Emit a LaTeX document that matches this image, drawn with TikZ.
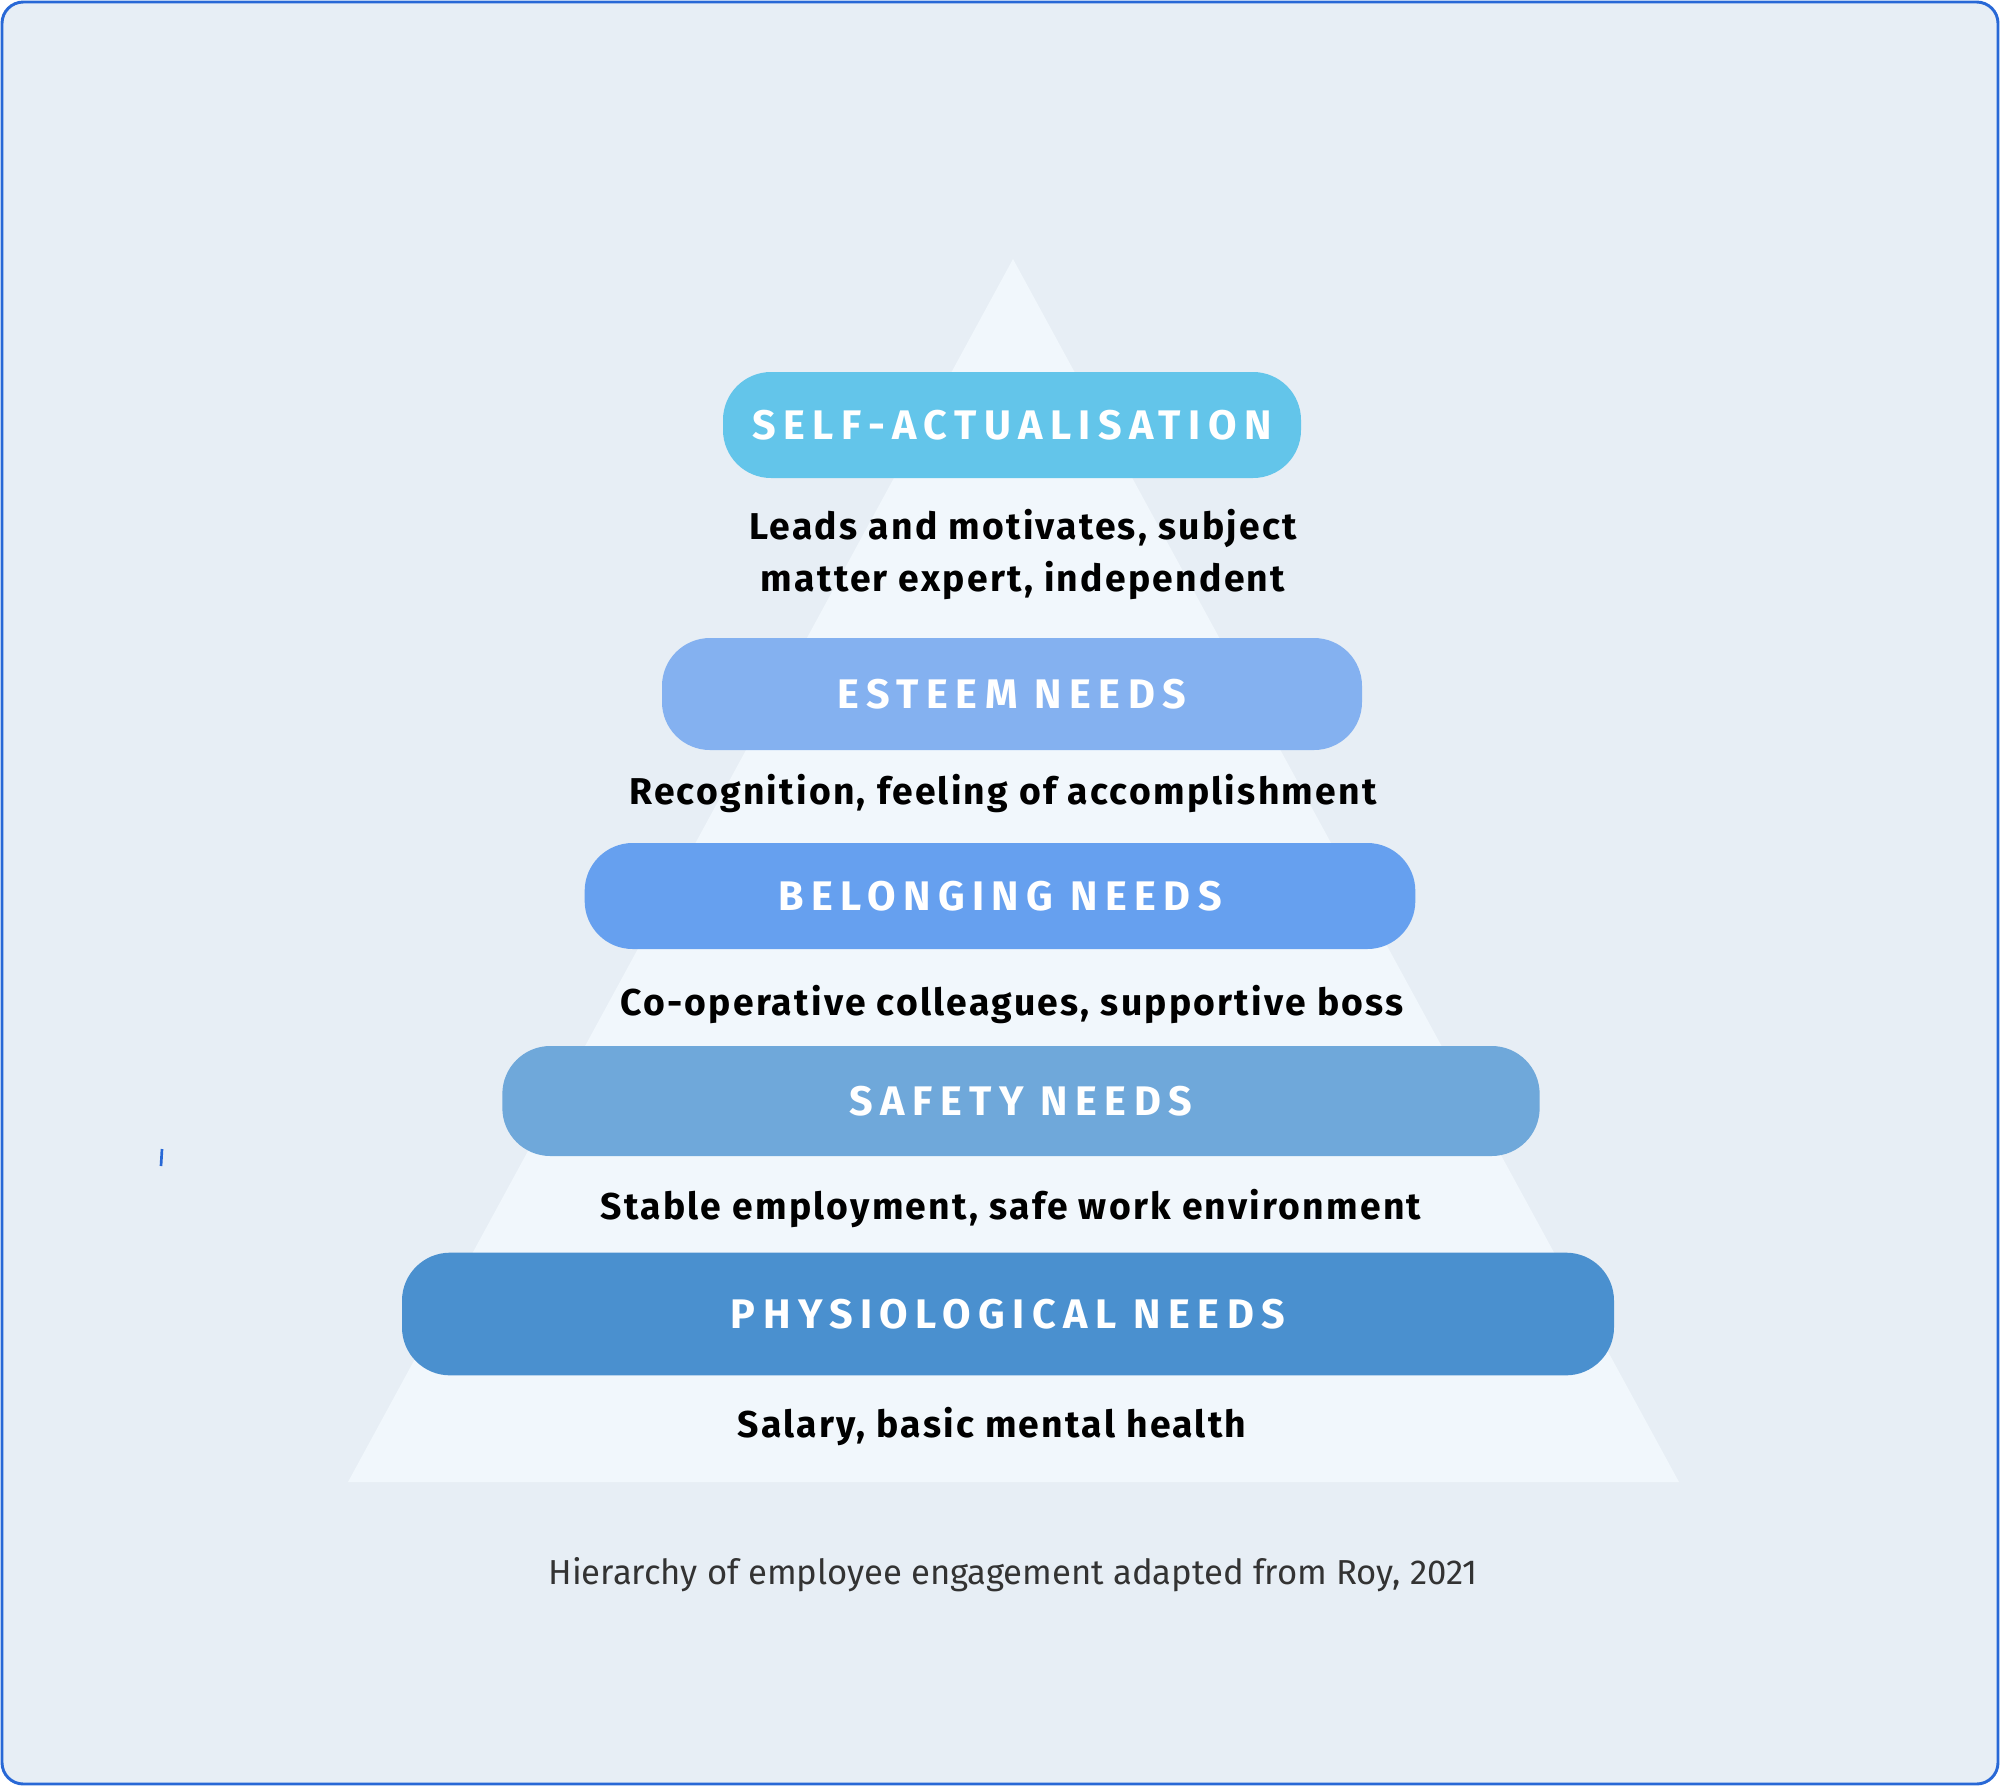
\documentclass[tikz,border=0pt]{standalone}
\usepackage{fontspec}
\setmainfont{Fira Sans}
\newfontfamily\pillfont[LetterSpace=18]{Fira Sans}
\newfontfamily\needfont[LetterSpace=6]{Fira Sans}
\usetikzlibrary{positioning}

\definecolor{bgcol}{RGB}{231,238,245}
\definecolor{framecol}{RGB}{40,104,214}
\definecolor{pyrcol}{RGB}{241,247,252}
\definecolor{selfcol}{RGB}{99,197,234}
\definecolor{esteemcol}{RGB}{132,177,240}
\definecolor{belongcol}{RGB}{102,160,239}
\definecolor{safecol}{RGB}{111,168,218}
\definecolor{physcol}{RGB}{74,144,207}

\tikzset{
  pill/.style={rounded corners=36pt, inner sep=0pt, text=white,
    font=\pillfont\bfseries\fontsize{31}{36}\selectfont},
  need/.style={inner sep=0.75pt, align=center, text=black,
    font=\needfont\bfseries\fontsize{28}{39}\selectfont},
}

\begin{document}
\begin{tikzpicture}[x=0.75pt,y=0.75pt,yscale=-1,xscale=1]
\useasboundingbox (0,0) rectangle (2000,1786);

%Shape: Frame
\draw [draw=framecol, fill=bgcol, line width=2.2, rounded corners=16pt] (2,2) rectangle (1998,1784) ;
%Shape: Pyramid
\fill [pyrcol] (1013,259) -- (1679,1482) -- (348,1482) -- cycle ;
%Stray tick
\draw [framecol, line width=2] (162,1149) -- (161,1166) ;

% Levels (sizes in pt = px*0.75)
\node [pill, fill=selfcol, minimum width=433.5pt, minimum height=79.5pt] (self) at (1012,425) {SELF-ACTUALISATION};
\node [pill, fill=esteemcol, minimum width=525pt, minimum height=84pt] (esteem) at (1012,694) {ESTEEM NEEDS};
\node [pill, fill=belongcol, minimum width=623pt, minimum height=79.5pt] (belong) at (1000,896) {BELONGING NEEDS};
\node [pill, fill=safecol, minimum width=778pt, minimum height=82.5pt] (safe) at (1021,1101) {SAFETY NEEDS};
\node [pill, fill=physcol, minimum width=909pt, minimum height=92pt] (phys) at (1008,1314) {PHYSIOLOGICAL NEEDS};

% Text Nodes
\node [need] (selftxt) at (1023,554) {Leads and motivates, subject\\matter expert, independent};
\node [need] (esteemtxt) at (1003,793) {Recognition, feeling of accomplishment};
\node [need] (belongtxt) at (1012,1004) {Co-operative colleagues, supportive boss};
\node [need] (safetxt) at (1011,1208) {Stable employment, safe work environment};
\node [need] (phystxt) at (992,1426) {Salary, basic mental health};

\node [inner sep=0.75pt, font=\fontsize{26}{30}\selectfont, text=black!80] (caption) at (1013,1575) {Hierarchy of employee engagement adapted from Roy, 2021};

\end{tikzpicture}
\end{document}
